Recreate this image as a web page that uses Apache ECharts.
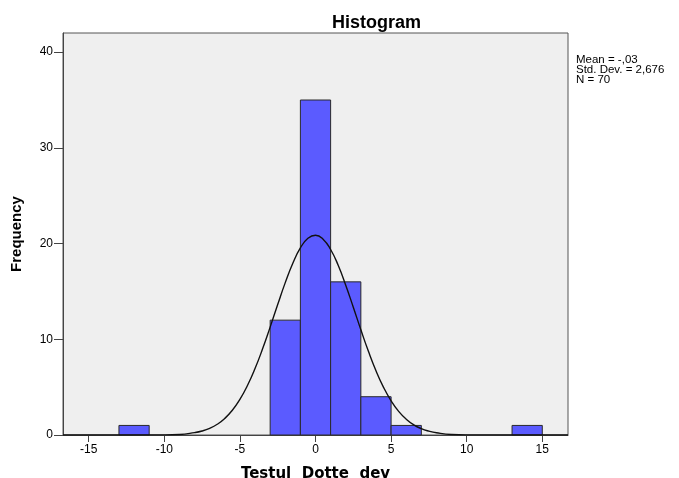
<!DOCTYPE html>
<html>
<head>
<meta charset="utf-8">
<script src="https://cdn.jsdelivr.net/npm/echarts@6/dist/echarts.min.js"></script>
<style>
  html, body { margin: 0; padding: 0; background: #fff; }
  #chart { width: 679px; height: 478px; }
</style>
</head>
<body>
<div id="chart"></div>
<script>
// histogram bins (width 2)
var binStart = [-13, -3, -1, 1, 3, 5, 13]
var binEnd = [-11, -1, 1, 3, 5, 7, 15]
var binCount = [1, 12, 35, 16, 4, 1, 1]

// normal curve
var curveX = [-16.7, -10, -9, -8, -7.5, -7, -6.5, -6, -5.5, -5, -4.5, -4, -3.5, -3, -2.5, -2, -1.5, -1, -0.5, 0,
              0.5, 1, 1.5, 2, 2.5, 3, 3.5, 4, 4.5, 5, 5.5, 6, 6.5, 7, 7.5, 8, 9, 10, 16.7]
var curveY = [0, 0.01, 0.05, 0.25, 0.42, 0.7, 1.12, 1.73, 2.58, 3.72, 5.17, 6.94, 9.0, 11.27, 13.63, 15.92, 17.95, 19.54, 20.55, 20.87,
              20.46, 19.38, 17.73, 15.65, 13.35, 10.99, 8.74, 6.71, 4.98, 3.57, 2.47, 1.65, 1.06, 0.66, 0.4, 0.23, 0.05, 0.01, 0]

var xTicks = [-15, -10, -5, 0, 5, 10, 15]
var yTicks = [0, 10, 20, 30, 40]
var statsLines = ['Mean = -,03', 'Std. Dev. = 2,676', 'N = 70']

var font = '"Liberation Sans", Arial, sans-serif'

var bars = binStart.map(function (s, i) { return [s, binEnd[i], binCount[i]] })
var curve = curveX.map(function (x, i) { return [x, curveY[i]] })

var chart = echarts.init(document.getElementById('chart'))

var option = {
    animation: false,
    backgroundColor: '#ffffff',
    title: {
        text: 'Histogram',
        left: 327,
        top: 9,
        textStyle: { fontFamily: font, fontSize: 18, fontWeight: 'bold', color: '#000' }
    },
    graphic: [{
        type: 'text',
        left: 576,
        top: 54,
        style: {
            text: statsLines.join('\n'),
            font: '11.5px ' + font,
            lineHeight: 10,
            fill: '#000'
        }
    }],
    grid: {
        left: 63,
        right: 111,
        top: 33,
        bottom: 43,
        outerBoundsMode: 'none',
        show: true,
        backgroundColor: '#efefef',
        borderColor: '#555',
        borderWidth: 1
    },
    xAxis: {
        type: 'value',
        min: -16.7,
        max: 16.7,
        name: 'Testul  Dotte  dev',
        nameLocation: 'middle',
        nameGap: 32,
        nameTextStyle: { fontFamily: '"DejaVu Sans", sans-serif', fontSize: 15, fontWeight: 'bold', color: '#000' },
        splitLine: { show: false },
        axisLine: { show: true, onZero: false, lineStyle: { color: '#444', width: 1 } },
        axisTick: { show: true, length: 7, lineStyle: { color: '#444' }, customValues: xTicks },
        axisLabel: { customValues: xTicks, color: '#000', fontFamily: font, fontSize: 12, margin: 9 }
    },
    yAxis: {
        type: 'value',
        min: 0,
        max: 42,
        name: 'Frequency',
        nameLocation: 'middle',
        nameGap: 39,
        nameTextStyle: { fontFamily: font, fontSize: 15, fontWeight: 'bold', color: '#000' },
        splitLine: { show: false },
        axisLine: { show: true, onZero: false, lineStyle: { color: '#444', width: 1 } },
        axisTick: { show: true, length: 9, lineStyle: { color: '#444' }, customValues: yTicks },
        axisLabel: { customValues: yTicks, color: '#000', fontFamily: font, fontSize: 12, margin: 10 }
    },
    series: [{
        type: 'custom',
        data: bars,
        renderItem: function (params, api) {
            var p0 = api.coord([api.value(0), 0])
            var p1 = api.coord([api.value(1), api.value(2)])
            return {
                type: 'rect',
                shape: { x: p0[0], y: p1[1], width: p1[0] - p0[0], height: p0[1] - p1[1] },
                style: { fill: '#5b5bff', stroke: '#2a2a2a', lineWidth: 1 }
            }
        },
        encode: { x: [0, 1], y: 2 },
        z: 2
    }, {
        type: 'line',
        data: curve,
        smooth: true,
        showSymbol: false,
        lineStyle: { color: '#111', width: 1.4 },
        z: 3
    }]
}

chart.setOption(option)
</script>
</body>
</html>
